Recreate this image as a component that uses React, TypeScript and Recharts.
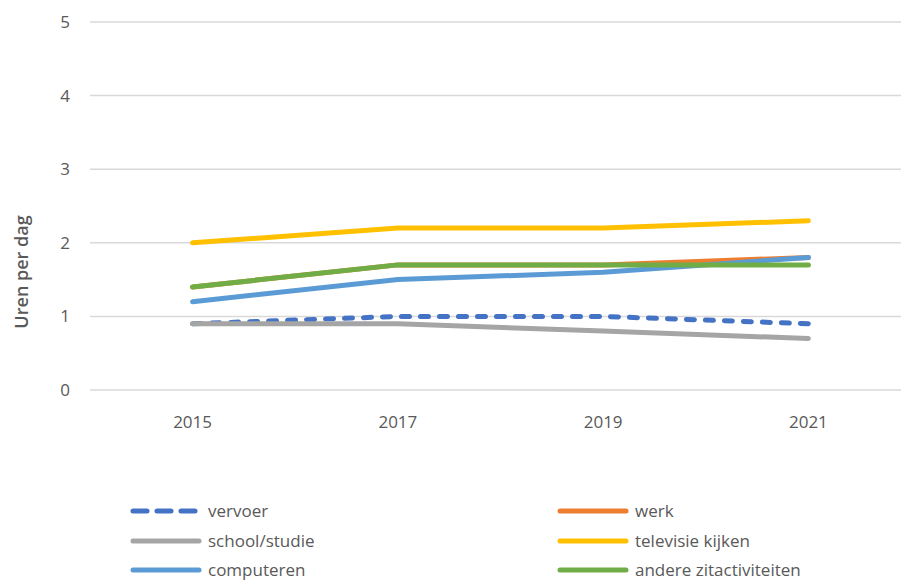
import React from 'react';
import { LineChart, Line, XAxis, YAxis, CartesianGrid, Legend } from 'recharts';

const years = ['2015', '2017', '2019', '2021'];
const vervoer = [0.9, 1.0, 1.0, 0.9];
const werk = [1.4, 1.7, 1.7, 1.8];
const school = [0.9, 0.9, 0.8, 0.7];
const televisie = [2.0, 2.2, 2.2, 2.3];
const computeren = [1.2, 1.5, 1.6, 1.8];
const andere = [1.4, 1.7, 1.7, 1.7];
const yTicks = [0, 1, 2, 3, 4, 5];

const series = [
  { key: 'vervoer', label: 'vervoer', values: vervoer, color: '#4472C4', dashed: true },
  { key: 'werk', label: 'werk', values: werk, color: '#ED7D31', dashed: false },
  { key: 'school', label: 'school/studie', values: school, color: '#A5A5A5', dashed: false },
  { key: 'televisie', label: 'televisie kijken', values: televisie, color: '#FFC000', dashed: false },
  { key: 'computeren', label: 'computeren', values: computeren, color: '#5B9BD5', dashed: false },
  { key: 'andere', label: 'andere zitactiviteiten', values: andere, color: '#70AD47', dashed: false },
];

const data = years.map((year, i) => {
  const row: Record<string, string | number> = { year };
  series.forEach((s) => { row[s.key] = s.values[i]; });
  return row;
});

const font = '"Open Sans", sans-serif';
const textColor = '#595959';

const LegendBox = () => (
  <div style={{ position: 'relative', width: 901, height: 90, fontFamily: font, fontSize: 17, color: textColor }}>
    {series.map((s, i) => {
      const col = i % 2;
      const row = Math.floor(i / 2);
      return (
        <div key={s.key} style={{ position: 'absolute', left: col === 0 ? 130 : 557, top: row * 29.5, display: 'flex', alignItems: 'center', height: 26 }}>
          <svg width={78} height={10}>
            <line x1={3} y1={5} x2={69} y2={5} stroke={s.color} strokeWidth={5} strokeLinecap="round"
              strokeDasharray={s.dashed ? '14 10' : undefined} />
          </svg>
          <span style={{ lineHeight: '26px' }}>{s.label}</span>
        </div>
      );
    })}
  </div>
);

export default function App() {
  return (
    <div style={{ position: 'fixed', left: 0, top: 0, width: 901, height: 581, overflow: 'hidden', background: '#fff' }}>
      <div style={{ position: 'absolute', left: 6, top: 272, transform: 'translateY(-50%) rotate(-90deg)', transformOrigin: 'center', width: 30, height: 160, display: 'flex', alignItems: 'center', justifyContent: 'center' }}>
        <span style={{ whiteSpace: 'nowrap', fontFamily: font, fontSize: 18, fontWeight: 600, color: textColor }}>Uren per dag</span>
      </div>
      <LineChart width={915} height={581} data={data} margin={{ top: 22, right: 4, left: 30, bottom: 161 }}>
        <CartesianGrid vertical={false} stroke="#D9D9D9" strokeWidth={1.5} />
        <XAxis dataKey="year" axisLine={false} tickLine={false} height={30} padding={{ left: 102.6, right: 102.6 }}
          tick={{ fill: textColor, fontSize: 17, fontFamily: font }} dy={18} />
        <YAxis domain={[0, 5]} ticks={yTicks} axisLine={false} tickLine={false} width={60}
          tick={{ fill: textColor, fontSize: 17, fontFamily: font }} dx={-12} />
        <Legend layout="horizontal" verticalAlign="middle" align="center"
          wrapperStyle={{ top: 498, left: 0, width: 901 }} content={() => <LegendBox />} />
        {series.map((s) => (
          <Line key={s.key} dataKey={s.key} name={s.label} stroke={s.color} strokeWidth={5}
            strokeDasharray={s.dashed ? '8 11' : undefined} strokeLinecap="round"
            dot={false} activeDot={false} isAnimationActive={false} />
        ))}
      </LineChart>
    </div>
  );
}
